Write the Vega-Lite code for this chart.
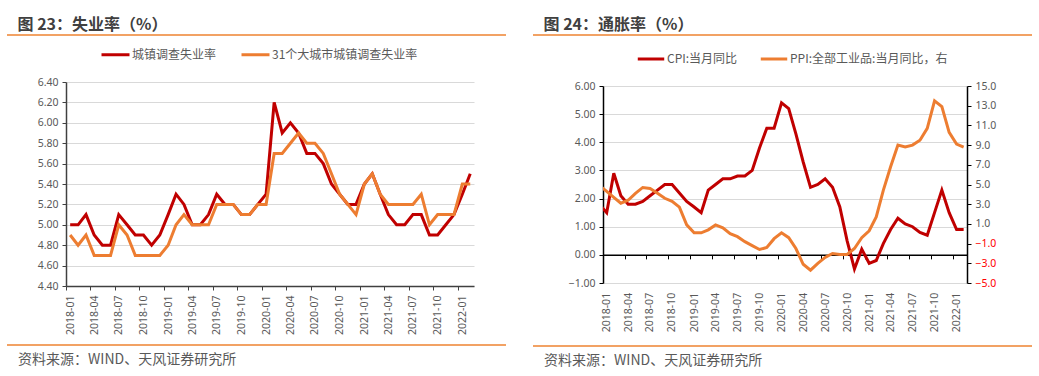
{
  "$schema": "https://vega.github.io/schema/vega-lite/v6.json",
  "background": "white",
  "padding": {"left": 6, "top": 16, "right": 0, "bottom": 0},
  "config": {
    "view": {"stroke": null},
    "font": "Noto Sans CJK SC",
    "title": {"font": "Noto Sans CJK SC", "fontWeight": "bold", "fontSize": 16, "color": "#404040"},
    "axis": {"labelFont": "Noto Sans", "labelFontSize": 10.5, "labelColor": "#595959", "title": null, "tickSize": 4, "labelOverlap": false, "labelBound": false, "labelFlush": false}
  },
  "resolve": {"scale": {"color": "independent"}, "legend": {"color": "independent"}},
  "datasets": {
    "sep": [{"k": 0}],
    "unemp": [
      {"m": "2018-01", "s": "城镇调查失业率", "v": 5.0}, {"m": "2018-02", "s": "城镇调查失业率", "v": 5.0}, {"m": "2018-03", "s": "城镇调查失业率", "v": 5.1}, {"m": "2018-04", "s": "城镇调查失业率", "v": 4.9}, {"m": "2018-05", "s": "城镇调查失业率", "v": 4.8}, {"m": "2018-06", "s": "城镇调查失业率", "v": 4.8}, {"m": "2018-07", "s": "城镇调查失业率", "v": 5.1}, {"m": "2018-08", "s": "城镇调查失业率", "v": 5.0}, {"m": "2018-09", "s": "城镇调查失业率", "v": 4.9}, {"m": "2018-10", "s": "城镇调查失业率", "v": 4.9}, {"m": "2018-11", "s": "城镇调查失业率", "v": 4.8}, {"m": "2018-12", "s": "城镇调查失业率", "v": 4.9},
      {"m": "2019-01", "s": "城镇调查失业率", "v": 5.1}, {"m": "2019-02", "s": "城镇调查失业率", "v": 5.3}, {"m": "2019-03", "s": "城镇调查失业率", "v": 5.2}, {"m": "2019-04", "s": "城镇调查失业率", "v": 5.0}, {"m": "2019-05", "s": "城镇调查失业率", "v": 5.0}, {"m": "2019-06", "s": "城镇调查失业率", "v": 5.1}, {"m": "2019-07", "s": "城镇调查失业率", "v": 5.3}, {"m": "2019-08", "s": "城镇调查失业率", "v": 5.2}, {"m": "2019-09", "s": "城镇调查失业率", "v": 5.2}, {"m": "2019-10", "s": "城镇调查失业率", "v": 5.1}, {"m": "2019-11", "s": "城镇调查失业率", "v": 5.1}, {"m": "2019-12", "s": "城镇调查失业率", "v": 5.2},
      {"m": "2020-01", "s": "城镇调查失业率", "v": 5.3}, {"m": "2020-02", "s": "城镇调查失业率", "v": 6.2}, {"m": "2020-03", "s": "城镇调查失业率", "v": 5.9}, {"m": "2020-04", "s": "城镇调查失业率", "v": 6.0}, {"m": "2020-05", "s": "城镇调查失业率", "v": 5.9}, {"m": "2020-06", "s": "城镇调查失业率", "v": 5.7}, {"m": "2020-07", "s": "城镇调查失业率", "v": 5.7}, {"m": "2020-08", "s": "城镇调查失业率", "v": 5.6}, {"m": "2020-09", "s": "城镇调查失业率", "v": 5.4}, {"m": "2020-10", "s": "城镇调查失业率", "v": 5.3}, {"m": "2020-11", "s": "城镇调查失业率", "v": 5.2}, {"m": "2020-12", "s": "城镇调查失业率", "v": 5.2},
      {"m": "2021-01", "s": "城镇调查失业率", "v": 5.4}, {"m": "2021-02", "s": "城镇调查失业率", "v": 5.5}, {"m": "2021-03", "s": "城镇调查失业率", "v": 5.3}, {"m": "2021-04", "s": "城镇调查失业率", "v": 5.1}, {"m": "2021-05", "s": "城镇调查失业率", "v": 5.0}, {"m": "2021-06", "s": "城镇调查失业率", "v": 5.0}, {"m": "2021-07", "s": "城镇调查失业率", "v": 5.1}, {"m": "2021-08", "s": "城镇调查失业率", "v": 5.1}, {"m": "2021-09", "s": "城镇调查失业率", "v": 4.9}, {"m": "2021-10", "s": "城镇调查失业率", "v": 4.9}, {"m": "2021-11", "s": "城镇调查失业率", "v": 5.0}, {"m": "2021-12", "s": "城镇调查失业率", "v": 5.1},
      {"m": "2022-01", "s": "城镇调查失业率", "v": 5.3}, {"m": "2022-02", "s": "城镇调查失业率", "v": 5.5},
      {"m": "2018-01", "s": "31个大城市城镇调查失业率", "v": 4.9}, {"m": "2018-02", "s": "31个大城市城镇调查失业率", "v": 4.8}, {"m": "2018-03", "s": "31个大城市城镇调查失业率", "v": 4.9}, {"m": "2018-04", "s": "31个大城市城镇调查失业率", "v": 4.7}, {"m": "2018-05", "s": "31个大城市城镇调查失业率", "v": 4.7}, {"m": "2018-06", "s": "31个大城市城镇调查失业率", "v": 4.7}, {"m": "2018-07", "s": "31个大城市城镇调查失业率", "v": 5.0}, {"m": "2018-08", "s": "31个大城市城镇调查失业率", "v": 4.9}, {"m": "2018-09", "s": "31个大城市城镇调查失业率", "v": 4.7}, {"m": "2018-10", "s": "31个大城市城镇调查失业率", "v": 4.7}, {"m": "2018-11", "s": "31个大城市城镇调查失业率", "v": 4.7}, {"m": "2018-12", "s": "31个大城市城镇调查失业率", "v": 4.7},
      {"m": "2019-01", "s": "31个大城市城镇调查失业率", "v": 4.8}, {"m": "2019-02", "s": "31个大城市城镇调查失业率", "v": 5.0}, {"m": "2019-03", "s": "31个大城市城镇调查失业率", "v": 5.1}, {"m": "2019-04", "s": "31个大城市城镇调查失业率", "v": 5.0}, {"m": "2019-05", "s": "31个大城市城镇调查失业率", "v": 5.0}, {"m": "2019-06", "s": "31个大城市城镇调查失业率", "v": 5.0}, {"m": "2019-07", "s": "31个大城市城镇调查失业率", "v": 5.2}, {"m": "2019-08", "s": "31个大城市城镇调查失业率", "v": 5.2}, {"m": "2019-09", "s": "31个大城市城镇调查失业率", "v": 5.2}, {"m": "2019-10", "s": "31个大城市城镇调查失业率", "v": 5.1}, {"m": "2019-11", "s": "31个大城市城镇调查失业率", "v": 5.1}, {"m": "2019-12", "s": "31个大城市城镇调查失业率", "v": 5.2},
      {"m": "2020-01", "s": "31个大城市城镇调查失业率", "v": 5.2}, {"m": "2020-02", "s": "31个大城市城镇调查失业率", "v": 5.7}, {"m": "2020-03", "s": "31个大城市城镇调查失业率", "v": 5.7}, {"m": "2020-04", "s": "31个大城市城镇调查失业率", "v": 5.8}, {"m": "2020-05", "s": "31个大城市城镇调查失业率", "v": 5.9}, {"m": "2020-06", "s": "31个大城市城镇调查失业率", "v": 5.8}, {"m": "2020-07", "s": "31个大城市城镇调查失业率", "v": 5.8}, {"m": "2020-08", "s": "31个大城市城镇调查失业率", "v": 5.7}, {"m": "2020-09", "s": "31个大城市城镇调查失业率", "v": 5.5}, {"m": "2020-10", "s": "31个大城市城镇调查失业率", "v": 5.3}, {"m": "2020-11", "s": "31个大城市城镇调查失业率", "v": 5.2}, {"m": "2020-12", "s": "31个大城市城镇调查失业率", "v": 5.1},
      {"m": "2021-01", "s": "31个大城市城镇调查失业率", "v": 5.4}, {"m": "2021-02", "s": "31个大城市城镇调查失业率", "v": 5.5}, {"m": "2021-03", "s": "31个大城市城镇调查失业率", "v": 5.3}, {"m": "2021-04", "s": "31个大城市城镇调查失业率", "v": 5.2}, {"m": "2021-05", "s": "31个大城市城镇调查失业率", "v": 5.2}, {"m": "2021-06", "s": "31个大城市城镇调查失业率", "v": 5.2}, {"m": "2021-07", "s": "31个大城市城镇调查失业率", "v": 5.2}, {"m": "2021-08", "s": "31个大城市城镇调查失业率", "v": 5.3}, {"m": "2021-09", "s": "31个大城市城镇调查失业率", "v": 5.0}, {"m": "2021-10", "s": "31个大城市城镇调查失业率", "v": 5.1}, {"m": "2021-11", "s": "31个大城市城镇调查失业率", "v": 5.1}, {"m": "2021-12", "s": "31个大城市城镇调查失业率", "v": 5.1},
      {"m": "2022-01", "s": "31个大城市城镇调查失业率", "v": 5.4}, {"m": "2022-02", "s": "31个大城市城镇调查失业率", "v": 5.4}
    ],
    "cpi": [
      {"m": "2017-12", "s": "CPI:当月同比", "v": 1.8},
      {"m": "2018-01", "s": "CPI:当月同比", "v": 1.5}, {"m": "2018-02", "s": "CPI:当月同比", "v": 2.9}, {"m": "2018-03", "s": "CPI:当月同比", "v": 2.1}, {"m": "2018-04", "s": "CPI:当月同比", "v": 1.8}, {"m": "2018-05", "s": "CPI:当月同比", "v": 1.8}, {"m": "2018-06", "s": "CPI:当月同比", "v": 1.9}, {"m": "2018-07", "s": "CPI:当月同比", "v": 2.1}, {"m": "2018-08", "s": "CPI:当月同比", "v": 2.3}, {"m": "2018-09", "s": "CPI:当月同比", "v": 2.5}, {"m": "2018-10", "s": "CPI:当月同比", "v": 2.5}, {"m": "2018-11", "s": "CPI:当月同比", "v": 2.2}, {"m": "2018-12", "s": "CPI:当月同比", "v": 1.9},
      {"m": "2019-01", "s": "CPI:当月同比", "v": 1.7}, {"m": "2019-02", "s": "CPI:当月同比", "v": 1.5}, {"m": "2019-03", "s": "CPI:当月同比", "v": 2.3}, {"m": "2019-04", "s": "CPI:当月同比", "v": 2.5}, {"m": "2019-05", "s": "CPI:当月同比", "v": 2.7}, {"m": "2019-06", "s": "CPI:当月同比", "v": 2.7}, {"m": "2019-07", "s": "CPI:当月同比", "v": 2.8}, {"m": "2019-08", "s": "CPI:当月同比", "v": 2.8}, {"m": "2019-09", "s": "CPI:当月同比", "v": 3.0}, {"m": "2019-10", "s": "CPI:当月同比", "v": 3.8}, {"m": "2019-11", "s": "CPI:当月同比", "v": 4.5}, {"m": "2019-12", "s": "CPI:当月同比", "v": 4.5},
      {"m": "2020-01", "s": "CPI:当月同比", "v": 5.4}, {"m": "2020-02", "s": "CPI:当月同比", "v": 5.2}, {"m": "2020-03", "s": "CPI:当月同比", "v": 4.3}, {"m": "2020-04", "s": "CPI:当月同比", "v": 3.3}, {"m": "2020-05", "s": "CPI:当月同比", "v": 2.4}, {"m": "2020-06", "s": "CPI:当月同比", "v": 2.5}, {"m": "2020-07", "s": "CPI:当月同比", "v": 2.7}, {"m": "2020-08", "s": "CPI:当月同比", "v": 2.4}, {"m": "2020-09", "s": "CPI:当月同比", "v": 1.7}, {"m": "2020-10", "s": "CPI:当月同比", "v": 0.5}, {"m": "2020-11", "s": "CPI:当月同比", "v": -0.5}, {"m": "2020-12", "s": "CPI:当月同比", "v": 0.2},
      {"m": "2021-01", "s": "CPI:当月同比", "v": -0.3}, {"m": "2021-02", "s": "CPI:当月同比", "v": -0.2}, {"m": "2021-03", "s": "CPI:当月同比", "v": 0.4}, {"m": "2021-04", "s": "CPI:当月同比", "v": 0.9}, {"m": "2021-05", "s": "CPI:当月同比", "v": 1.3}, {"m": "2021-06", "s": "CPI:当月同比", "v": 1.1}, {"m": "2021-07", "s": "CPI:当月同比", "v": 1.0}, {"m": "2021-08", "s": "CPI:当月同比", "v": 0.8}, {"m": "2021-09", "s": "CPI:当月同比", "v": 0.7}, {"m": "2021-10", "s": "CPI:当月同比", "v": 1.5}, {"m": "2021-11", "s": "CPI:当月同比", "v": 2.3}, {"m": "2021-12", "s": "CPI:当月同比", "v": 1.5},
      {"m": "2022-01", "s": "CPI:当月同比", "v": 0.9}, {"m": "2022-02", "s": "CPI:当月同比", "v": 0.9}
    ],
    "ppi": [
      {"m": "2017-12", "s": "PPI:全部工业品:当月同比，右", "v": 4.9},
      {"m": "2018-01", "s": "PPI:全部工业品:当月同比，右", "v": 4.3}, {"m": "2018-02", "s": "PPI:全部工业品:当月同比，右", "v": 3.7}, {"m": "2018-03", "s": "PPI:全部工业品:当月同比，右", "v": 3.1}, {"m": "2018-04", "s": "PPI:全部工业品:当月同比，右", "v": 3.4}, {"m": "2018-05", "s": "PPI:全部工业品:当月同比，右", "v": 4.1}, {"m": "2018-06", "s": "PPI:全部工业品:当月同比，右", "v": 4.7}, {"m": "2018-07", "s": "PPI:全部工业品:当月同比，右", "v": 4.6}, {"m": "2018-08", "s": "PPI:全部工业品:当月同比，右", "v": 4.1}, {"m": "2018-09", "s": "PPI:全部工业品:当月同比，右", "v": 3.6}, {"m": "2018-10", "s": "PPI:全部工业品:当月同比，右", "v": 3.3}, {"m": "2018-11", "s": "PPI:全部工业品:当月同比，右", "v": 2.7}, {"m": "2018-12", "s": "PPI:全部工业品:当月同比，右", "v": 0.9},
      {"m": "2019-01", "s": "PPI:全部工业品:当月同比，右", "v": 0.1}, {"m": "2019-02", "s": "PPI:全部工业品:当月同比，右", "v": 0.1}, {"m": "2019-03", "s": "PPI:全部工业品:当月同比，右", "v": 0.4}, {"m": "2019-04", "s": "PPI:全部工业品:当月同比，右", "v": 0.9}, {"m": "2019-05", "s": "PPI:全部工业品:当月同比，右", "v": 0.6}, {"m": "2019-06", "s": "PPI:全部工业品:当月同比，右", "v": 0.0}, {"m": "2019-07", "s": "PPI:全部工业品:当月同比，右", "v": -0.3}, {"m": "2019-08", "s": "PPI:全部工业品:当月同比，右", "v": -0.8}, {"m": "2019-09", "s": "PPI:全部工业品:当月同比，右", "v": -1.2}, {"m": "2019-10", "s": "PPI:全部工业品:当月同比，右", "v": -1.6}, {"m": "2019-11", "s": "PPI:全部工业品:当月同比，右", "v": -1.4}, {"m": "2019-12", "s": "PPI:全部工业品:当月同比，右", "v": -0.5},
      {"m": "2020-01", "s": "PPI:全部工业品:当月同比，右", "v": 0.1}, {"m": "2020-02", "s": "PPI:全部工业品:当月同比，右", "v": -0.4}, {"m": "2020-03", "s": "PPI:全部工业品:当月同比，右", "v": -1.5}, {"m": "2020-04", "s": "PPI:全部工业品:当月同比，右", "v": -3.1}, {"m": "2020-05", "s": "PPI:全部工业品:当月同比，右", "v": -3.7}, {"m": "2020-06", "s": "PPI:全部工业品:当月同比，右", "v": -3.0}, {"m": "2020-07", "s": "PPI:全部工业品:当月同比，右", "v": -2.4}, {"m": "2020-08", "s": "PPI:全部工业品:当月同比，右", "v": -2.0}, {"m": "2020-09", "s": "PPI:全部工业品:当月同比，右", "v": -2.1}, {"m": "2020-10", "s": "PPI:全部工业品:当月同比，右", "v": -2.1}, {"m": "2020-11", "s": "PPI:全部工业品:当月同比，右", "v": -1.5}, {"m": "2020-12", "s": "PPI:全部工业品:当月同比，右", "v": -0.4},
      {"m": "2021-01", "s": "PPI:全部工业品:当月同比，右", "v": 0.3}, {"m": "2021-02", "s": "PPI:全部工业品:当月同比，右", "v": 1.7}, {"m": "2021-03", "s": "PPI:全部工业品:当月同比，右", "v": 4.4}, {"m": "2021-04", "s": "PPI:全部工业品:当月同比，右", "v": 6.8}, {"m": "2021-05", "s": "PPI:全部工业品:当月同比，右", "v": 9.0}, {"m": "2021-06", "s": "PPI:全部工业品:当月同比，右", "v": 8.8}, {"m": "2021-07", "s": "PPI:全部工业品:当月同比，右", "v": 9.0}, {"m": "2021-08", "s": "PPI:全部工业品:当月同比，右", "v": 9.5}, {"m": "2021-09", "s": "PPI:全部工业品:当月同比，右", "v": 10.7}, {"m": "2021-10", "s": "PPI:全部工业品:当月同比，右", "v": 13.5}, {"m": "2021-11", "s": "PPI:全部工业品:当月同比，右", "v": 12.9}, {"m": "2021-12", "s": "PPI:全部工业品:当月同比，右", "v": 10.3},
      {"m": "2022-01", "s": "PPI:全部工业品:当月同比，右", "v": 9.1}, {"m": "2022-02", "s": "PPI:全部工业品:当月同比，右", "v": 8.8}
    ]
  },
  "spacing": 25,
  "hconcat": [
    {
      "spacing": 3,
      "resolve": {"scale": {"color": "independent"}, "legend": {"color": "independent"}},
      "vconcat": [
        {
          "width": 499, "height": 1,
          "data": {"name": "sep"},
          "mark": {"type": "rule", "color": "#EE8330", "strokeWidth": 1.5},
          "encoding": {"y": {"field": "k", "type": "quantitative", "scale": {"domain": [0, 1]}, "axis": null}},
          "title": {"text": "图 23：失业率（%）", "anchor": "start", "dx": 10.5, "offset": -11.5, "baseline": "alphabetic", "frame": "group"}
        },
        {
          "spacing": 29,
          "resolve": {"scale": {"color": "independent"}, "legend": {"color": "independent"}},
          "hconcat": [
            {"width": 1, "height": 1, "data": {"values": []}, "mark": "point"},
            {
              "width": 408, "height": 204,
              "data": {"name": "unemp"},
              "mark": {"type": "line", "strokeWidth": 3, "clip": true},
              "encoding": {
                "x": {
                  "field": "m", "type": "temporal", "timeUnit": "utcyearmonth", "bandPosition": 0.5,
                  "scale": {"type": "utc", "domain": [{"year": 2018, "month": 1, "date": 1, "utc": true}, {"year": 2022, "month": 3, "date": 1, "utc": true}]},
                  "axis": {
                    "values": [
                      {"year": 2018, "month": 1, "date": 1, "utc": true}, {"year": 2018, "month": 4, "date": 1, "utc": true}, {"year": 2018, "month": 7, "date": 1, "utc": true}, {"year": 2018, "month": 10, "date": 1, "utc": true},
                      {"year": 2019, "month": 1, "date": 1, "utc": true}, {"year": 2019, "month": 4, "date": 1, "utc": true}, {"year": 2019, "month": 7, "date": 1, "utc": true}, {"year": 2019, "month": 10, "date": 1, "utc": true},
                      {"year": 2020, "month": 1, "date": 1, "utc": true}, {"year": 2020, "month": 4, "date": 1, "utc": true}, {"year": 2020, "month": 7, "date": 1, "utc": true}, {"year": 2020, "month": 10, "date": 1, "utc": true},
                      {"year": 2021, "month": 1, "date": 1, "utc": true}, {"year": 2021, "month": 4, "date": 1, "utc": true}, {"year": 2021, "month": 7, "date": 1, "utc": true}, {"year": 2021, "month": 10, "date": 1, "utc": true},
                      {"year": 2022, "month": 1, "date": 1, "utc": true}
                    ],
                    "format": "%Y-%m", "labelAngle": 270, "labelOffset": 4.1, "labelPadding": 5, "grid": false,
                    "domainColor": "#404040", "tickColor": "#404040", "domainWidth": 1.5
                  }
                },
                "y": {
                  "field": "v", "type": "quantitative",
                  "scale": {"domain": [4.4, 6.4], "nice": false, "zero": false},
                  "axis": {"values": [4.4, 4.6, 4.8, 5.0, 5.2, 5.4, 5.6, 5.8, 6.0, 6.2, 6.4], "format": ".2f", "grid": true, "gridColor": "#D9D9D9", "gridWidth": 1, "domainColor": "#404040", "tickColor": "#404040", "domainWidth": 1.5, "labelPadding": 4}
                },
                "color": {
                  "field": "s", "type": "nominal",
                  "scale": {"domain": ["城镇调查失业率", "31个大城市城镇调查失业率"], "range": ["#C00000", "#ED7D31"]},
                  "legend": {"orient": "none", "legendX": 34, "legendY": -43, "direction": "horizontal", "title": null, "symbolType": "stroke", "symbolStrokeWidth": 3, "symbolSize": 784, "labelOffset": 1, "columnPadding": 18, "labelFontSize": 12, "labelFont": "Noto Sans CJK SC", "labelColor": "#595959", "labelLimit": 0, "padding": 0}
                }
              }
            }
          ]
        },
        {
          "width": 499, "height": 7,
          "data": {"name": "sep"},
          "mark": {"type": "rule", "color": "#EE8330", "strokeWidth": 1.5},
          "encoding": {"y": {"field": "k", "type": "quantitative", "scale": {"domain": [0, 1]}, "axis": null}},
          "title": {"text": "资料来源：WIND、天风证券研究所", "orient": "bottom", "anchor": "start", "dx": 11, "offset": 18, "baseline": "alphabetic", "frame": "group", "fontSize": 14, "fontWeight": "normal", "color": "#595959"}
        }
      ]
    },
    {
      "spacing": 8,
      "resolve": {"scale": {"color": "independent"}, "legend": {"color": "independent"}},
      "vconcat": [
        {
          "width": 499, "height": 1,
          "data": {"name": "sep"},
          "mark": {"type": "rule", "color": "#EE8330", "strokeWidth": 1.5},
          "encoding": {"y": {"field": "k", "type": "quantitative", "scale": {"domain": [0, 1]}, "axis": null}},
          "title": {"text": "图 24：通胀率（%）", "anchor": "start", "dx": 10.5, "offset": -11.5, "baseline": "alphabetic", "frame": "group"}
        },
        {
          "spacing": 34,
          "resolve": {"scale": {"color": "independent"}, "legend": {"color": "independent"}},
          "hconcat": [
            {"width": 1, "height": 1, "data": {"values": []}, "mark": "point"},
            {
              "width": 364, "height": 197,
              "encoding": {
                "x": {
                  "field": "m", "type": "temporal", "timeUnit": "utcyearmonth", "bandPosition": 0.5,
                  "scale": {"type": "utc", "domain": [{"year": 2018, "month": 1, "date": 1, "utc": true}, {"year": 2022, "month": 3, "date": 1, "utc": true}]},
                  "axis": {
                    "values": [
                      {"year": 2018, "month": 1, "date": 1, "utc": true}, {"year": 2018, "month": 4, "date": 1, "utc": true}, {"year": 2018, "month": 7, "date": 1, "utc": true}, {"year": 2018, "month": 10, "date": 1, "utc": true},
                      {"year": 2019, "month": 1, "date": 1, "utc": true}, {"year": 2019, "month": 4, "date": 1, "utc": true}, {"year": 2019, "month": 7, "date": 1, "utc": true}, {"year": 2019, "month": 10, "date": 1, "utc": true},
                      {"year": 2020, "month": 1, "date": 1, "utc": true}, {"year": 2020, "month": 4, "date": 1, "utc": true}, {"year": 2020, "month": 7, "date": 1, "utc": true}, {"year": 2020, "month": 10, "date": 1, "utc": true},
                      {"year": 2021, "month": 1, "date": 1, "utc": true}, {"year": 2021, "month": 4, "date": 1, "utc": true}, {"year": 2021, "month": 7, "date": 1, "utc": true}, {"year": 2021, "month": 10, "date": 1, "utc": true},
                      {"year": 2022, "month": 1, "date": 1, "utc": true}
                    ],
                    "format": "%Y-%m", "labelAngle": 270, "labelOffset": 3.6, "offset": -28.14, "labelPadding": 33.5, "grid": false,
                    "domainColor": "#000000", "tickColor": "#000000", "domainWidth": 1.5
                  }
                },
                "color": {
                  "field": "s", "type": "nominal",
                  "scale": {"domain": ["CPI:当月同比", "PPI:全部工业品:当月同比，右"], "range": ["#C00000", "#ED7D31"]},
                  "legend": {"orient": "none", "legendX": 33, "legendY": -42, "direction": "horizontal", "title": null, "symbolType": "stroke", "symbolStrokeWidth": 3, "symbolSize": 700, "labelOffset": 1, "columnPadding": 16, "labelFontSize": 12, "labelFont": "Noto Sans CJK SC", "labelColor": "#595959", "labelLimit": 0, "padding": 0}
                }
              },
              "layer": [
                {
                  "data": {"name": "cpi"},
                  "mark": {"type": "line", "strokeWidth": 3, "clip": true},
                  "encoding": {
                    "y": {
                      "field": "v", "type": "quantitative",
                      "scale": {"domain": [-1, 6], "nice": false, "zero": false},
                      "axis": {"values": [-1, 0, 1, 2, 3, 4, 5, 6], "format": ".2f", "grid": true, "gridColor": "#D9D9D9", "gridWidth": 1, "domainColor": "#000000", "tickColor": "#000000", "domainWidth": 1.5, "labelPadding": 4}
                    }
                  }
                },
                {
                  "data": {"name": "ppi"},
                  "mark": {"type": "line", "strokeWidth": 3, "clip": true},
                  "encoding": {
                    "y": {
                      "field": "v", "type": "quantitative",
                      "scale": {"domain": [-5, 15], "nice": false, "zero": false},
                      "axis": {"orient": "right", "values": [-5, -3, -1, 1, 3, 5, 7, 9, 11, 13, 15], "format": ".1f", "grid": false, "domainColor": "#000000", "tickColor": "#000000", "domainWidth": 1.5, "labelPadding": 4, "labelColor": {"condition": {"test": "datum.value < 0", "value": "#FF0000"}, "value": "#595959"}}
                    }
                  }
                }
              ],
              "resolve": {"scale": {"y": "independent"}}
            }
          ]
        },
        {
          "width": 499, "height": 6,
          "data": {"name": "sep"},
          "mark": {"type": "rule", "color": "#EE8330", "strokeWidth": 1.5},
          "encoding": {"y": {"field": "k", "type": "quantitative", "scale": {"domain": [0, 1]}, "axis": null}},
          "title": {"text": "资料来源：WIND、天风证券研究所", "orient": "bottom", "anchor": "start", "dx": 11, "offset": 18, "baseline": "alphabetic", "frame": "group", "fontSize": 14, "fontWeight": "normal", "color": "#595959"}
        }
      ]
    }
  ]
}
